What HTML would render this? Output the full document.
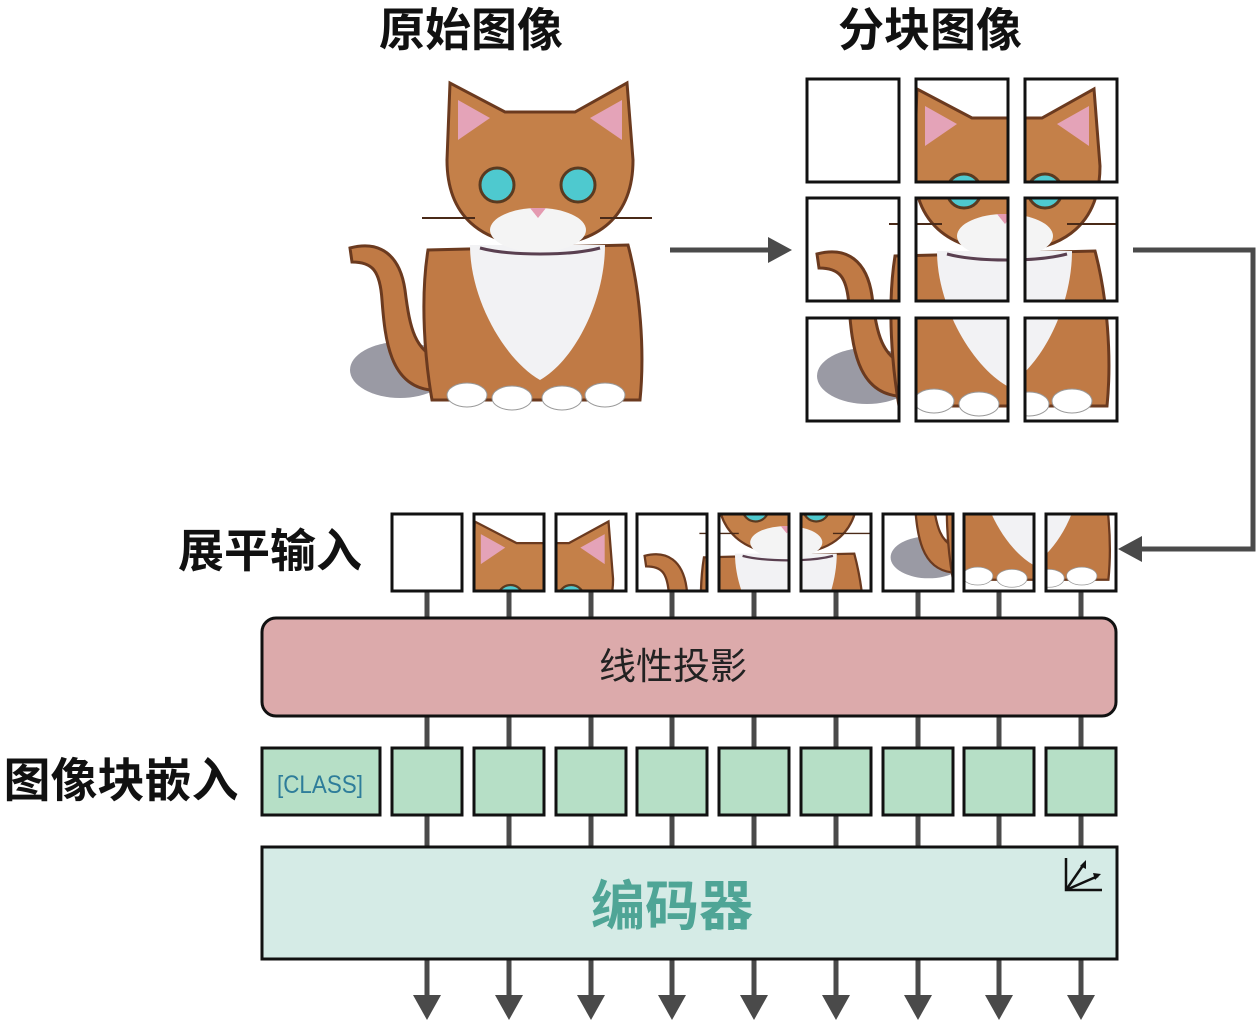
<!DOCTYPE html>
<html><head><meta charset="utf-8"><style>
html,body{margin:0;padding:0;background:#fff;}
body{width:1257px;height:1020px;overflow:hidden;position:relative;font-family:"Liberation Sans","Noto Sans CJK SC",sans-serif;}
</style></head><body>
<svg width="1257" height="1020" viewBox="0 0 1257 1020" xmlns="http://www.w3.org/2000/svg" style="position:absolute;left:0;top:0">
<defs>
<g id="cat">
  <ellipse cx="400" cy="370" rx="50" ry="28" fill="#9a9aa4"/>
  <path d="M430 390 C390 385 385 340 382 300 C380 270 372 262 352 262 L350 248 C380 240 400 255 405 290 C410 330 415 350 440 360 Z" fill="#c07a45" stroke="#6b3a1f" stroke-width="3"/>
  <path d="M428 250 C420 300 425 360 432 400 L640 400 C645 350 640 290 628 245 Z" fill="#c07a45" stroke="#6b3a1f" stroke-width="3"/>
  <path d="M470 245 C470 300 505 360 540 380 C575 360 605 300 605 245 Z" fill="#f2f2f4"/>
  <path d="M447 160 L450 83 L505 112 L575 112 L627 83 L633 160 C633 215 600 245 540 245 C480 245 447 215 447 160 Z" fill="#c48049" stroke="#6b3a1f" stroke-width="3"/>
  <path d="M458 140 L458 100 L490 118 Z" fill="#e4a3b8"/>
  <path d="M622 140 L622 100 L590 118 Z" fill="#e4a3b8"/>
  <ellipse cx="538" cy="230" rx="48" ry="22" fill="#f4f4f4"/>
  <circle cx="497" cy="185" r="17" fill="#4ec9cf" stroke="#5a3a20" stroke-width="3"/>
  <circle cx="578" cy="185" r="17" fill="#4ec9cf" stroke="#5a3a20" stroke-width="3"/>
  <path d="M530 208 L546 208 L538 218 Z" fill="#e49ab0"/>
  <path d="M422 218 L475 218 M600 218 L652 218" stroke="#4a2a18" stroke-width="2"/>
  <path d="M480 248 C510 256 570 256 600 248" stroke="#5a4050" stroke-width="3" fill="none"/>
  <ellipse cx="467" cy="395" rx="20" ry="12" fill="#fff" stroke="#999" stroke-width="1"/>
  <ellipse cx="512" cy="398" rx="20" ry="12" fill="#fff" stroke="#999" stroke-width="1"/>
  <ellipse cx="562" cy="398" rx="20" ry="12" fill="#fff" stroke="#999" stroke-width="1"/>
  <ellipse cx="605" cy="395" rx="20" ry="12" fill="#fff" stroke="#999" stroke-width="1"/>
</g>
</defs>

<text x="471" y="46" font-size="46" font-weight="bold" text-anchor="middle" fill="#111" font-family="Liberation Sans, Noto Sans CJK SC, sans-serif">原始图像</text>
<text x="930" y="46" font-size="46" font-weight="bold" text-anchor="middle" fill="#111" font-family="Liberation Sans, Noto Sans CJK SC, sans-serif">分块图像</text>

<use href="#cat"/>

<line x1="670" y1="250" x2="770" y2="250" stroke="#4a4a4a" stroke-width="5"/>
<polygon points="768,237 792,250 768,263" fill="#4a4a4a"/>

<svg x="807" y="79" width="92" height="103" viewBox="340 73 92 103"><rect x="340" y="73" width="92" height="103" fill="#fff"/><use href="#cat"/></svg>
<svg x="916" y="79" width="92" height="103" viewBox="449 73 92 103"><rect x="449" y="73" width="92" height="103" fill="#fff"/><use href="#cat"/></svg>
<svg x="1025" y="79" width="92" height="103" viewBox="558 73 92 103"><rect x="558" y="73" width="92" height="103" fill="#fff"/><use href="#cat"/></svg>
<svg x="807" y="198" width="92" height="103" viewBox="340 192 92 103"><rect x="340" y="192" width="92" height="103" fill="#fff"/><use href="#cat"/></svg>
<svg x="916" y="198" width="92" height="103" viewBox="449 192 92 103"><rect x="449" y="192" width="92" height="103" fill="#fff"/><use href="#cat"/></svg>
<svg x="1025" y="198" width="92" height="103" viewBox="558 192 92 103"><rect x="558" y="192" width="92" height="103" fill="#fff"/><use href="#cat"/></svg>
<svg x="807" y="318" width="92" height="103" viewBox="340 312 92 103"><rect x="340" y="312" width="92" height="103" fill="#fff"/><use href="#cat"/></svg>
<svg x="916" y="318" width="92" height="103" viewBox="449 312 92 103"><rect x="449" y="312" width="92" height="103" fill="#fff"/><use href="#cat"/></svg>
<svg x="1025" y="318" width="92" height="103" viewBox="558 312 92 103"><rect x="558" y="312" width="92" height="103" fill="#fff"/><use href="#cat"/></svg>
<g fill="none" stroke="#111" stroke-width="3">
<rect x="807" y="79" width="92" height="103"/><rect x="916" y="79" width="92" height="103"/><rect x="1025" y="79" width="92" height="103"/>
<rect x="807" y="198" width="92" height="103"/><rect x="916" y="198" width="92" height="103"/><rect x="1025" y="198" width="92" height="103"/>
<rect x="807" y="318" width="92" height="103"/><rect x="916" y="318" width="92" height="103"/><rect x="1025" y="318" width="92" height="103"/>
</g>

<polyline points="1133,250 1253,250 1253,549 1140,549" fill="none" stroke="#4a4a4a" stroke-width="5"/>
<polygon points="1142,536 1118,549 1142,562" fill="#4a4a4a"/>

<text x="270" y="567" font-size="46" font-weight="bold" text-anchor="middle" fill="#111" font-family="Liberation Sans, Noto Sans CJK SC, sans-serif">展平输入</text>
<text x="121" y="797" font-size="47" font-weight="bold" text-anchor="middle" fill="#111" font-family="Liberation Sans, Noto Sans CJK SC, sans-serif">图像块嵌入</text>

<g stroke="#4a4a4a" stroke-width="5">
<line x1="427" y1="590" x2="427" y2="995"/><line x1="509" y1="590" x2="509" y2="995"/><line x1="591" y1="590" x2="591" y2="995"/>
<line x1="672" y1="590" x2="672" y2="995"/><line x1="754" y1="590" x2="754" y2="995"/><line x1="836" y1="590" x2="836" y2="995"/>
<line x1="918" y1="590" x2="918" y2="995"/><line x1="999" y1="590" x2="999" y2="995"/><line x1="1081" y1="590" x2="1081" y2="995"/>
</g>
<g fill="#4a4a4a">
<polygon points="413,995 441,995 427,1020"/><polygon points="495,995 523,995 509,1020"/><polygon points="577,995 605,995 591,1020"/>
<polygon points="658,995 686,995 672,1020"/><polygon points="740,995 768,995 754,1020"/><polygon points="822,995 850,995 836,1020"/>
<polygon points="904,995 932,995 918,1020"/><polygon points="985,995 1013,995 999,1020"/><polygon points="1067,995 1095,995 1081,1020"/>
</g>

<svg x="392" y="514" width="70" height="77" viewBox="340 73 92 103" preserveAspectRatio="none"><rect x="340" y="73" width="92" height="103" fill="#fff"/><use href="#cat"/></svg>
<svg x="474" y="514" width="70" height="77" viewBox="449 73 92 103" preserveAspectRatio="none"><rect x="449" y="73" width="92" height="103" fill="#fff"/><use href="#cat"/></svg>
<svg x="556" y="514" width="70" height="77" viewBox="558 73 92 103" preserveAspectRatio="none"><rect x="558" y="73" width="92" height="103" fill="#fff"/><use href="#cat"/></svg>
<svg x="637" y="514" width="70" height="77" viewBox="340 192 92 103" preserveAspectRatio="none"><rect x="340" y="192" width="92" height="103" fill="#fff"/><use href="#cat"/></svg>
<svg x="719" y="514" width="70" height="77" viewBox="449 192 92 103" preserveAspectRatio="none"><rect x="449" y="192" width="92" height="103" fill="#fff"/><use href="#cat"/></svg>
<svg x="801" y="514" width="70" height="77" viewBox="558 192 92 103" preserveAspectRatio="none"><rect x="558" y="192" width="92" height="103" fill="#fff"/><use href="#cat"/></svg>
<svg x="883" y="514" width="70" height="77" viewBox="340 312 92 103" preserveAspectRatio="none"><rect x="340" y="312" width="92" height="103" fill="#fff"/><use href="#cat"/></svg>
<svg x="964" y="514" width="70" height="77" viewBox="449 312 92 103" preserveAspectRatio="none"><rect x="449" y="312" width="92" height="103" fill="#fff"/><use href="#cat"/></svg>
<svg x="1046" y="514" width="70" height="77" viewBox="558 312 92 103" preserveAspectRatio="none"><rect x="558" y="312" width="92" height="103" fill="#fff"/><use href="#cat"/></svg>
<g fill="none" stroke="#111" stroke-width="3">
<rect x="392" y="514" width="70" height="77"/><rect x="474" y="514" width="70" height="77"/><rect x="556" y="514" width="70" height="77"/>
<rect x="637" y="514" width="70" height="77"/><rect x="719" y="514" width="70" height="77"/><rect x="801" y="514" width="70" height="77"/>
<rect x="883" y="514" width="70" height="77"/><rect x="964" y="514" width="70" height="77"/><rect x="1046" y="514" width="70" height="77"/>
</g>

<rect x="262" y="618" width="854" height="98" rx="14" fill="#dcaaab" stroke="#111" stroke-width="3"/>
<text x="673" y="679" font-size="37" text-anchor="middle" fill="#222" font-family="Liberation Sans, Noto Sans CJK SC, sans-serif">线性投影</text>

<g fill="#b6dfc6" stroke="#111" stroke-width="3">
<rect x="262" y="748" width="118" height="67"/>
<rect x="392" y="748" width="70" height="67"/><rect x="474" y="748" width="70" height="67"/><rect x="556" y="748" width="70" height="67"/>
<rect x="637" y="748" width="70" height="67"/><rect x="719" y="748" width="70" height="67"/><rect x="801" y="748" width="70" height="67"/>
<rect x="883" y="748" width="70" height="67"/><rect x="964" y="748" width="70" height="67"/><rect x="1046" y="748" width="70" height="67"/>
</g>
<text x="320" y="793" font-size="25" text-anchor="middle" fill="#2e7d9a" textLength="86" lengthAdjust="spacingAndGlyphs" font-family="Liberation Sans, sans-serif">[CLASS]</text>

<rect x="262" y="847" width="855" height="112" fill="#d5ebe6" stroke="#111" stroke-width="3"/>
<text x="672" y="925" font-size="54" font-weight="bold" text-anchor="middle" fill="#4fa596" font-family="Liberation Sans, Noto Sans CJK SC, sans-serif">编码器</text>
<g stroke="#111" stroke-width="2.5" fill="none">
<polyline points="1066,858 1066,890 1102,890"/>
<line x1="1066" y1="890" x2="1084" y2="864"/>
<line x1="1066" y1="890" x2="1098" y2="876"/>
</g>
<polygon points="1086,860 1086,869 1080,866" fill="#111"/>
<polygon points="1101,874 1095,880 1093,873" fill="#111"/>
</svg>
</body></html>
